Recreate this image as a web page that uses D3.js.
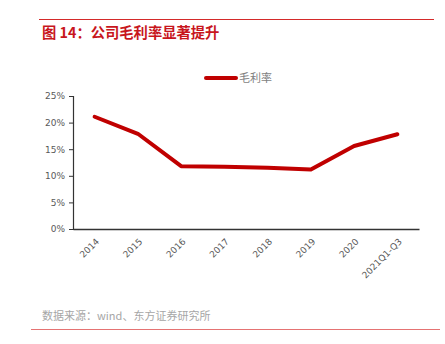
<!DOCTYPE html>
<html><head><meta charset="utf-8">
<script src="https://cdn.jsdelivr.net/npm/d3@7"></script>
<style>body{margin:0;background:#fff}svg{display:block}</style>
</head><body>
<svg id="c" width="445" height="344"></svg>
<script>
const categories = ["2014","2015","2016","2017","2018","2019","2020","2021Q1-Q3"];
const grossMargin = [21.1, 17.9, 11.8, 11.7, 11.5, 11.2, 15.6, 17.8];
const yTicks = [0, 5, 10, 15, 20, 25];
const seriesName = "毛利率";
const title = "图 14：公司毛利率显著提升";
const source = "数据来源：wind、东方证券研究所";

(function(){
const svg = d3.select("#c");
const font = "'Noto Sans CJK SC', 'Microsoft YaHei', sans-serif";
const pLeft = 73, pRight = 419, pTop = 96, pBottom = 229;

svg.append("line").attr("x1",39).attr("x2",434).attr("y1",19.5).attr("y2",19.5)
  .attr("stroke","#d42a2a").attr("stroke-width",1);
svg.append("text").attr("x",42).attr("y",38).text(title)
  .attr("font-family",font).attr("font-size",14.3).attr("font-weight","bold").attr("fill","#c8161d");

const x = d3.scaleBand().domain(categories).range([pLeft, pRight]);
const y = d3.scaleLinear().domain([0, 25]).range([pBottom, pTop]);

const yAxis = svg.append("g").attr("transform",`translate(${pLeft},0)`)
  .call(d3.axisLeft(y).tickValues(yTicks).tickFormat(d=>d+"%").tickSize(4));
yAxis.select(".domain").attr("stroke","#333").attr("stroke-width",1.2);
yAxis.selectAll(".tick line").attr("stroke","#333");
yAxis.selectAll(".tick text").attr("font-family","'DejaVu Sans', sans-serif").attr("font-size",9).attr("fill","#595959").attr("dx",-1);

const xAxis = svg.append("g").attr("transform",`translate(0,${pBottom})`)
  .call(d3.axisBottom(x).tickSize(0).tickSizeOuter(0));
xAxis.select(".domain").attr("stroke","#333").attr("stroke-width",1.5);
xAxis.selectAll(".tick text")
  .attr("font-family","'DejaVu Sans', sans-serif").attr("font-size",9).attr("fill","#595959")
  .attr("text-anchor","end").attr("dy",0)
  .attr("transform","translate(3,11) rotate(-45)");

const line = d3.line().x((d,i)=>x(categories[i])+x.bandwidth()/2).y(d=>y(d));
svg.append("path").datum(grossMargin).attr("d",line)
  .attr("fill","none").attr("stroke","#c00000").attr("stroke-width",4).attr("stroke-linejoin","round").attr("stroke-linecap","round");

svg.append("line").attr("x1",206).attr("x2",236).attr("y1",78).attr("y2",78)
  .attr("stroke","#c00000").attr("stroke-width",4).attr("stroke-linecap","round");
svg.append("text").attr("x",239).attr("y",82).text(seriesName)
  .attr("font-family",font).attr("font-size",11).attr("fill","#7f7f7f");

svg.append("text").attr("x",42).attr("y",320).text(source)
  .attr("font-family",font).attr("font-size",11).attr("fill","#a6a6a6");
svg.append("line").attr("x1",31).attr("x2",440).attr("y1",329.5).attr("y2",329.5)
  .attr("stroke","#e57373").attr("stroke-width",1);
})();
</script>
</body></html>
